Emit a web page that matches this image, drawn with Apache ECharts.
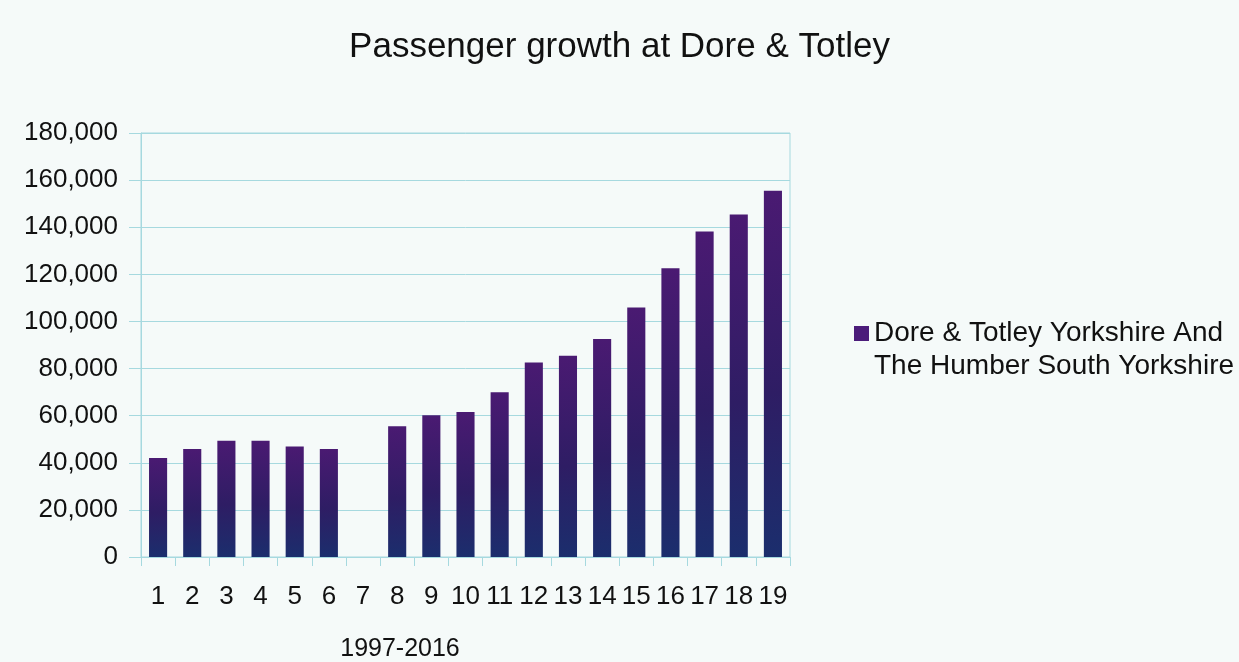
<!DOCTYPE html>
<html>
<head>
<meta charset="utf-8">
<script src="https://cdn.jsdelivr.net/npm/echarts@6/dist/echarts.min.js"></script>
<style>
html,body{margin:0;padding:0;background:#f5faf9;overflow:hidden;}
#chart{width:1239px;height:662px;}
</style>
</head>
<body>
<div id="chart"></div>
<script>
const categories = ['1','2','3','4','5','6','7','8','9','10','11','12','13','14','15','16','17','18','19'];
const passengers = [42000, 45900, 49300, 49400, 46900, 45900, null, 55500, 60200, 61600, 69900, 82600, 85400, 92500, 105900, 122600, 138200, 145400, 155500];
const seriesName = 'Dore & Totley Yorkshire And The Humber South Yorkshire';
const legendLines = ['Dore & Totley Yorkshire And', 'The Humber South Yorkshire'];
const titleText = 'Passenger growth at Dore & Totley';
const xAxisName = '1997-2016';

const chart = echarts.init(document.getElementById('chart'));
const cyan = '#a6d9df';
const font = 'Liberation Sans, Arial, sans-serif';
chart.setOption({
  backgroundColor: '#f5faf9',
  animation: false,
  title: {
    text: titleText,
    left: 'center',
    top: 25,
    textStyle: {fontFamily: font, fontSize: 35, fontWeight: 'normal', color: '#111'}
  },
  legend: {
    data: [{name: seriesName, itemStyle: {color: '#4b1c7a'}}],
    left: 854,
    top: 284,
    padding: 0,
    icon: 'rect',
    itemWidth: 15,
    itemHeight: 15,
    formatter: () => ' \n' + legendLines.join('\n'),
    textStyle: {fontFamily: font, fontSize: 28, lineHeight: 33, color: '#111'}
  },
  grid: {
    left: 141, right: 449, top: 133, bottom: 105,
    outerBoundsMode: 'none',
    containLabel: false,
    show: true, borderColor: cyan, borderWidth: 1, backgroundColor: 'transparent'
  },
  xAxis: {
    type: 'category',
    data: categories,
    name: xAxisName,
    nameLocation: 'middle',
    nameGap: 80,
    nameTextStyle: {fontFamily: font, fontSize: 25, color: '#111', padding: [0, 131, 0, 0]},
    axisLine: {lineStyle: {color: cyan}},
    axisTick: {show: true, length: 9, lineStyle: {color: cyan}},
    axisLabel: {fontFamily: font, fontSize: 26, color: '#111', margin: 27, interval: 0}
  },
  yAxis: {
    type: 'value',
    min: 0, max: 180000, interval: 20000,
    axisLine: {show: true, lineStyle: {color: cyan}},
    axisTick: {show: true, length: 12, lineStyle: {color: cyan}},
    splitLine: {lineStyle: {color: cyan}},
    axisLabel: {
      fontFamily: font, fontSize: 26, color: '#111', margin: 23,
      formatter: v => v.toLocaleString('en-US')
    }
  },
  series: [{
    name: seriesName,
    type: 'bar',
    data: passengers,
    barWidth: '53%',
    itemStyle: {
      color: new echarts.graphic.LinearGradient(0, 0, 0, 1, [
        {offset: 0, color: '#4a1a72'},
        {offset: 0.55, color: '#2e1d64'},
        {offset: 1, color: '#1b2e6d'}
      ])
    }
  }]
});
</script>
</body>
</html>
